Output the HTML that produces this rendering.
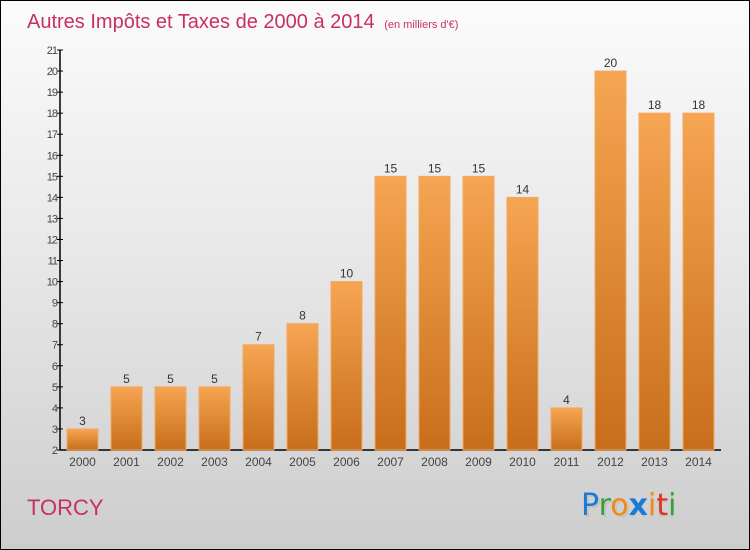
<!DOCTYPE html>
<html><head><meta charset="utf-8"><style>
html,body{margin:0;padding:0}
body{width:750px;height:550px;overflow:hidden;font-family:"Liberation Sans",sans-serif}
#wrap{position:absolute;left:0;top:0;width:748px;height:548px;border:1px solid #000;background:linear-gradient(#fbfbfb,#e6e6e6 50%,#cdcdcd)}
</style></head><body>
<div id="wrap">
<svg id="chart" width="750" height="550" style="position:absolute;left:-1px;top:-1px">
<defs><linearGradient id="bg" x1="0" y1="0" x2="0" y2="1"><stop offset="0" stop-color="#f6a552"/><stop offset="1" stop-color="#c76e1c"/></linearGradient></defs>
<text x="27" y="28" font-size="20" fill="#c8315e">Autres Impôts et Taxes de 2000 à 2014 <tspan font-size="11" dx="4">(en milliers d'€)</tspan></text>
<text x="27" y="515" font-size="22" fill="#c8315e">TORCY</text>
<g font-size="30" font-family="'DejaVu Sans',sans-serif">
<text x="583" y="517" fill="#bbb" opacity="0.6">Proxiti</text>
<text x="581" y="515"><tspan fill="#1a7ad4">P</tspan><tspan fill="#3aa03a">r</tspan><tspan fill="#f08a10">o</tspan><tspan fill="#1a7ad4" font-weight="bold">x</tspan><tspan fill="#f08a10">i</tspan><tspan fill="#e03020">t</tspan><tspan fill="#3aa03a">i</tspan></text>
</g>
<g id="axes"></g><g id="bars"></g>
</svg></div>
<script>
const categories=["2000","2001","2002","2003","2004","2005","2006","2007","2008","2009","2010","2011","2012","2013","2014"];
const values=[3,5,5,5,7,8,10,15,15,15,14,4,20,18,18];
const yTicks=[2,3,4,5,6,7,8,9,10,11,12,13,14,15,16,17,18,19,20,21];
const NS="http://www.w3.org/2000/svg";
const yMin=2,yMax=21,y0=450,y1=50,xAxis0=60,xAxis1=721,bandStart=60.5,band=44,barW=31;
const ys=v=>y0-(v-yMin)/(yMax-yMin)*(y0-y1);
const xs=i=>bandStart+band*i+band/2;
function mk(t,a,p){const e=document.createElementNS(NS,t);for(const k in a)e.setAttribute(k,a[k]);p.appendChild(e);return e;}
const ax=document.getElementById('axes'),bg=document.getElementById('bars');
let l=mk('line',{x1:xAxis0,y1:y1,x2:xAxis0,y2:y0,stroke:'#000','stroke-width':1.5},ax);


l=mk('line',{x1:xAxis0,y1:y0,x2:xAxis1,y2:y0,stroke:'#000','stroke-width':1.5},ax);


yTicks.forEach(v=>{const y=ys(v);
mk('line',{x1:xAxis0-3,y1:y,x2:xAxis0+3,y2:y,stroke:'#000'},ax);
const t=mk('text',{x:xAxis0-3,y:y+4,'text-anchor':'end','font-size':11,fill:'#444','letter-spacing':'-1'},ax);t.textContent=v;

});
categories.forEach((c,i)=>{const x=xs(i),v=values[i],y=ys(v);
const r=mk('rect',{x:x-barW/2,y:y,width:barW,height:y0-y,fill:'url(#bg)',stroke:'#f5a860','stroke-width':1},bg);


const t=mk('text',{x:x,y:y-4,'text-anchor':'middle','font-size':12,fill:'#333'},bg);t.textContent=v;


const xl=mk('text',{x:x,y:466,'text-anchor':'middle','font-size':12,fill:'#444'},ax);xl.textContent=c;

});
</script>
</body></html>
